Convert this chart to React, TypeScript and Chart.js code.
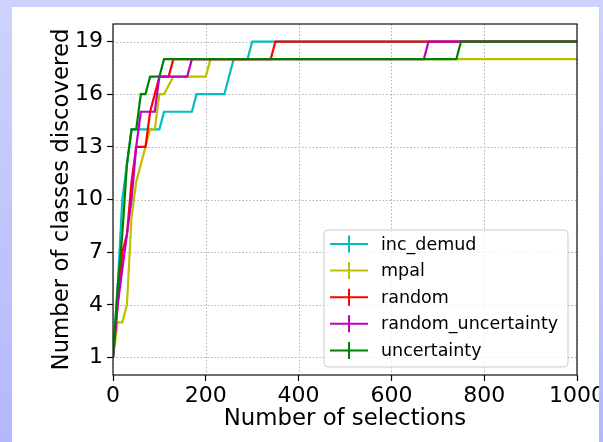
import React, { useEffect, useRef } from "react";
import { Chart, registerables } from "chart.js";

Chart.register(...registerables);

const SERIES_LABELS = ["inc_demud", "mpal", "random", "random_uncertainty", "uncertainty"];
const SERIES_COLORS = ["#00bfbf", "#bfbf00", "#ff0000", "#bf00bf", "#008000"];

const incDemudX = [0, 10, 20, 30, 40, 100, 110, 170, 180, 240, 260, 290, 300, 1000];
const incDemudY = [1, 5, 10, 12, 14, 14, 15, 15, 16, 16, 18, 18, 19, 19];

const mpalX = [0, 10, 20, 30, 40, 50, 60, 70, 80, 90, 100, 110, 130, 200, 210, 1000];
const mpalY = [1, 3, 3, 4, 9, 11, 12, 13, 14, 14, 16, 16, 17, 17, 18, 18];

const randomX = [0, 10, 20, 30, 40, 50, 70, 80, 90, 100, 120, 130, 340, 350, 1000];
const randomY = [1, 4, 7, 8, 11, 13, 13, 15, 16, 17, 17, 18, 18, 19, 19];

const randomUncX = [0, 10, 20, 30, 40, 50, 60, 90, 100, 160, 170, 670, 680, 1000];
const randomUncY = [1, 4, 6, 8, 10, 13, 15, 15, 17, 17, 18, 18, 19, 19];

const uncertaintyX = [0, 10, 20, 30, 40, 50, 60, 70, 80, 100, 110, 740, 750, 1000];
const uncertaintyY = [1, 5, 8, 12, 14, 14, 16, 16, 17, 17, 18, 18, 19, 19];

const SERIES_X = [incDemudX, mpalX, randomX, randomUncX, uncertaintyX];
const SERIES_Y = [incDemudY, mpalY, randomY, randomUncY, uncertaintyY];

const X_TICKS = [0, 200, 400, 600, 800, 1000];
const Y_TICKS = [1, 4, 7, 10, 13, 16, 19];

const X_TITLE = "Number of selections";
const Y_TITLE = "Number of classes discovered";

const FONT = "'DejaVu Sans', sans-serif";

const gridPlugin = {
  id: "dottedGrid",
  beforeDatasetsDraw(chart: any) {
    const { ctx, chartArea } = chart;
    const xs = chart.scales.x;
    const ys = chart.scales.y;
    ctx.save();
    ctx.strokeStyle = "#b0b0b0";
    ctx.lineWidth = 1;
    ctx.setLineDash([1.5, 2]);
    X_TICKS.forEach((v) => {
      const px = Math.round(xs.getPixelForValue(v)) + 0.5;
      ctx.beginPath();
      ctx.moveTo(px, chartArea.top);
      ctx.lineTo(px, chartArea.bottom);
      ctx.stroke();
    });
    Y_TICKS.forEach((v) => {
      const py = Math.round(ys.getPixelForValue(v)) + 0.5;
      ctx.beginPath();
      ctx.moveTo(chartArea.left, py);
      ctx.lineTo(chartArea.right, py);
      ctx.stroke();
    });
    ctx.restore();
  },
  afterDatasetsDraw(chart: any) {
    const { ctx, chartArea } = chart;
    ctx.save();
    ctx.strokeStyle = "#222";
    ctx.lineWidth = 1.3;
    ctx.setLineDash([]);
    ctx.strokeRect(chartArea.left, chartArea.top, chartArea.right - chartArea.left, chartArea.bottom - chartArea.top);

    // legend
    const bw = 244;
    const bh = 137;
    const bx = chartArea.right - 9 - bw;
    const by = chartArea.bottom - 8 - bh;
    const r = 4;
    ctx.beginPath();
    ctx.moveTo(bx + r, by);
    ctx.lineTo(bx + bw - r, by);
    ctx.quadraticCurveTo(bx + bw, by, bx + bw, by + r);
    ctx.lineTo(bx + bw, by + bh - r);
    ctx.quadraticCurveTo(bx + bw, by + bh, bx + bw - r, by + bh);
    ctx.lineTo(bx + r, by + bh);
    ctx.quadraticCurveTo(bx, by + bh, bx, by + bh - r);
    ctx.lineTo(bx, by + r);
    ctx.quadraticCurveTo(bx, by, bx + r, by);
    ctx.closePath();
    ctx.fillStyle = "rgba(255,255,255,0.8)";
    ctx.fill();
    ctx.strokeStyle = "#cccccc";
    ctx.lineWidth = 1;
    ctx.stroke();

    ctx.font = `17.5px ${FONT}`;
    ctx.textBaseline = "middle";
    ctx.textAlign = "left";
    chart.data.datasets.forEach((ds: any, i: number) => {
      const cy = by + 14 + i * 26.6;
      ctx.strokeStyle = ds.borderColor;
      ctx.lineWidth = 2;
      ctx.beginPath();
      ctx.moveTo(bx + 6, cy);
      ctx.lineTo(bx + 44, cy);
      ctx.moveTo(bx + 25, cy - 8.5);
      ctx.lineTo(bx + 25, cy + 8.5);
      ctx.stroke();
      ctx.fillStyle = "#000";
      ctx.fillText(ds.label, bx + 57, cy + 1);
    });
    ctx.restore();
  },
};

export default function App() {
  const ref = useRef<HTMLCanvasElement | null>(null);

  useEffect(() => {
    document.body.style.margin = "0";
    document.body.style.overflow = "hidden";
    const canvas = ref.current;
    if (!canvas) return;
    const n = SERIES_LABELS.length;
    const datasets = SERIES_LABELS.map((label, i) => ({
      label,
      data: SERIES_X[i].map((x, j) => ({ x, y: SERIES_Y[i][j] })),
      borderColor: SERIES_COLORS[i],
      backgroundColor: SERIES_COLORS[i],
      borderWidth: 2.2,
      pointRadius: 0,
      tension: 0,
      fill: false,
      order: n - 1 - i,
    }));
    const chart = new Chart(canvas, {
      type: "line",
      data: { datasets },
      options: {
        animation: false,
        responsive: false,
        devicePixelRatio: 1,
        layout: { padding: { left: 0, top: 24, right: 43, bottom: 0 } },
        plugins: { legend: { display: false }, tooltip: { enabled: false } },
        scales: {
          x: {
            type: "linear",
            min: 0,
            max: 1000,
            afterBuildTicks: (scale: any) => {
              scale.ticks = X_TICKS.map((v) => ({ value: v }));
            },
            afterFit: (scale: any) => {
              scale.height = 67;
            },
            ticks: {
              color: "#000",
              font: { family: FONT, size: 22 },
              padding: 2,
              maxRotation: 0,
              autoSkip: false,
              callback: (v: any) => String(v),
            },
            grid: {
              drawOnChartArea: false,
              drawTicks: true,
              tickLength: 6,
              color: "#000",
              tickColor: "#000",
              tickWidth: 1.2,
            },
            border: { display: false },
            title: {
              display: true,
              text: X_TITLE,
              color: "#000",
              font: { family: FONT, size: 22.8 },
              padding: { top: 0, bottom: 9 },
            },
          },
          y: {
            type: "linear",
            min: 0,
            max: 20,
            afterBuildTicks: (scale: any) => {
              scale.ticks = Y_TICKS.map((v) => ({ value: v }));
            },
            afterFit: (scale: any) => {
              scale.width = 113;
            },
            ticks: {
              color: "#000",
              font: { family: FONT, size: 22 },
              padding: 4,
              autoSkip: false,
              callback: (v: any) => String(v),
            },
            grid: {
              drawOnChartArea: false,
              drawTicks: true,
              tickLength: 6,
              color: "#000",
              tickColor: "#000",
              tickWidth: 1.2,
            },
            border: { display: false },
            title: {
              display: true,
              text: Y_TITLE,
              color: "#000",
              font: { family: FONT, size: 22.8 },
              padding: { top: 48, bottom: 0 },
            },
          },
        },
      },
      plugins: [gridPlugin],
    } as any);
    return () => chart.destroy();
  }, []);

  const bg = "linear-gradient(#cfd2fc, #b3b8fd)";
  return (
    <div style={{ position: "relative", width: 603, height: 442, overflow: "hidden", background: bg }}>
      <div style={{ position: "absolute", left: 12, top: 7, width: 587, height: 440, background: "#fff" }} />
      <canvas ref={ref} width={620} height={442} style={{ position: "absolute", left: 0, top: 0 }} />
      <div style={{ position: "absolute", left: 599, top: 0, width: 4, height: 442, overflow: "hidden" }}>
        <div style={{ position: "absolute", left: -599, top: 0, width: 603, height: 442, background: bg }} />
      </div>
    </div>
  );
}
